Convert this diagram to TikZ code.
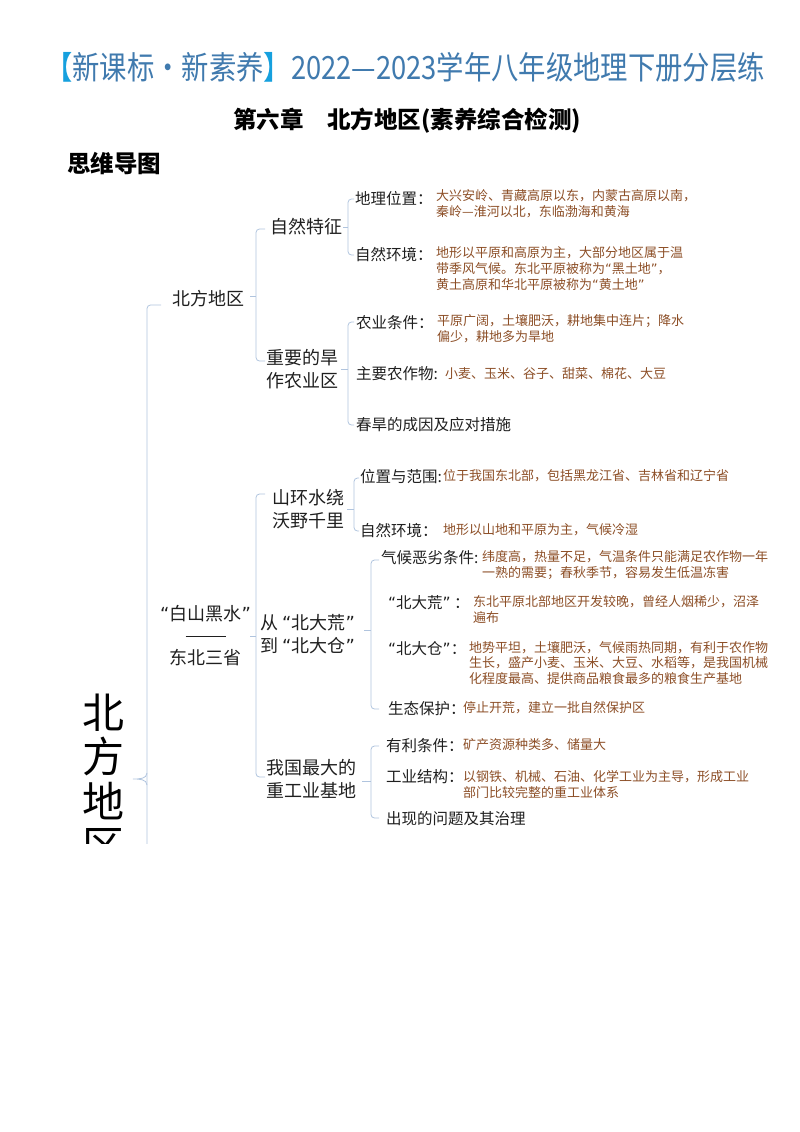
\documentclass[tikz,border=0pt]{standalone}
\usepackage{graphicx}
\usepackage{fontspec}
\setmainfont{Noto Sans CJK SC}
\newfontfamily\qfont{DejaVu Sans}
\newcommand\qo{{\qfont “}}
\newcommand\qc{{\qfont ”}}
\definecolor{brn}{RGB}{140,78,38}
\definecolor{lnc}{RGB}{176,196,222}
\definecolor{ttl}{RGB}{64,122,174}
\definecolor{brk}{RGB}{22,160,222}
\begin{document}
\begin{tikzpicture}[x=1pt,y=-1pt,
  br/.style={draw=lnc, line width=0.8pt, rounded corners=3.5pt},
  tipline/.style={draw=lnc, line width=0.8pt},
  n1/.style={inner sep=0pt, anchor=west, align=left, font={\fontsize{18}{23}\selectfont}, text=black!88},
  n2/.style={inner sep=0pt, anchor=west, align=left, font={\fontsize{15.5}{19}\selectfont}, text=black!88},
  det/.style={inner sep=0pt, anchor=west, align=left, font={\fontsize{13}{16}\selectfont}, text=brn},
]
\useasboundingbox (0,0) rectangle (800,1132);

% ---- titles
\node[inner sep=0pt, text=ttl] (title) at (405,67)
  {\resizebox{720pt}{\height}{\fontsize{32}{34}\selectfont\textcolor{brk}{【}新课标・新素养\textcolor{brk}{】}2022—2023学年八年级地理下册分层练}};
\node[inner sep=0pt, font={\bfseries\fontsize{23.5}{26}\selectfont}] (sub) at (407,121) {第六章　北方地区(素养综合检测)};
\node[inner sep=0pt, anchor=west, font={\bfseries\fontsize{23.5}{26}\selectfont}] (mm) at (67,164) {思维导图};

\begin{scope}
\clip (0,0) rectangle (800,843);

% ---- root
\node[inner sep=0pt, align=center, font={\fontsize{42}{44.5}\selectfont}] (root) at (103,779) {北\\方\\地\\区};

% ---- level 1
\node[n1] (bf) at (172,299) {北方地区};
\node[n1, align=center] (db) at (160,636) {\qo 白山黑水\qc\\[-2pt]\rule[0.3em]{40pt}{0.9pt}\\东北三省};

% ---- level 2 (北方地区)
\node[n1] (zr) at (270,227) {自然特征};
\node[n1] (hz) at (266,369) {重要的旱\\作农业区};

% ---- level 2 (东北三省)
\node[n1] (sh) at (272,509) {山环水绕\\沃野千里};
\node[n1] (cb) at (260,634) {从 \qo 北大荒\qc\\到 \qo 北大仓\qc};
\node[n1] (zg) at (266,779) {我国最大的\\重工业基地};

% ---- level 3 labels
\node[n2] (a1) at (355,199) {地理位置：};
\node[n2] (a2) at (355,255) {自然环境：};
\node[n2] (b1) at (356,323) {农业条件：};
\node[n2] (b2) at (356,374) {主要农作物:};
\node[n2] (b3) at (356,425) {春旱的成因及应对措施};
\node[n2] (c1) at (360,477) {位置与范围:};
\node[n2] (c2) at (360,531) {自然环境：};
\node[n2] (d1) at (381,558) {气候恶劣条件:};
\node[n2] (d2) at (388,603) {\qo 北大荒\qc\ ：};
\node[n2] (d3) at (388,649) {\qo 北大仓\qc ：};
\node[n2] (d4) at (388,709) {生态保护：};
\node[n2] (e1) at (386,746) {有利条件：};
\node[n2] (e2) at (386,777) {工业结构：};
\node[n2] (e3) at (386,819) {出现的问题及其治理};

% ---- details
\node[det] (ta1) at (436,204) {大兴安岭、青藏高原以东，内蒙古高原以南，\\秦岭—淮河以北，东临渤海和黄海};
\node[det] (ta2) at (436,269) {地形以平原和高原为主，大部分地区属于温\\带季风气候。东北平原被称为\qo 黑土地\qc ，\\黄土高原和华北平原被称为\qo 黄土地\qc};
\node[det] (tb1) at (437,329) {平原广阔，土壤肥沃，耕地集中连片；降水\\偏少，耕地多为旱地};
\node[det] (tb2) at (445,374) {小麦、玉米、谷子、甜菜、棉花、大豆};
\node[det] (tc1) at (443,476) {位于我国东北部，包括黑龙江省、吉林省和辽宁省};
\node[det] (tc2) at (443,530) {地形以山地和平原为主，气候冷湿};
\node[det] (td1) at (482,565) {纬度高，热量不足，气温条件只能满足农作物一年\\一熟的需要；春秋季节，容易发生低温冻害};
\node[det] (td2) at (473,610) {东北平原北部地区开发较晚，曾经人烟稀少，沼泽\\遍布};
\node[det, font={\fontsize{13}{15.3}\selectfont}] (td3) at (469,663) {地势平坦，土壤肥沃，气候雨热同期，有利于农作物\\生长，盛产小麦、玉米、大豆、水稻等，是我国机械\\化程度最高、提供商品粮食最多的粮食生产基地};
\node[det] (td4) at (463,708) {停止开荒，建立一批自然保护区};
\node[det] (te1) at (463,745) {矿产资源种类多、储量大};
\node[det] (te2) at (463,784) {以钢铁、机械、石油、化学工业为主导，形成工业\\部门比较完整的重工业体系};

% ---- brackets
% root
\draw[br] (161,305) -- (147,305) -- (147,870);
\draw[tipline] (147,773) to[out=-90,in=0] (133,779) to[out=0,in=90] (147,785);
% 北方地区
\draw[br] (265,229) -- (256,229) -- (256,361) -- (265,361);
\draw[tipline] (250,296) -- (256,296);
% 自然特征
\draw[br] (354,199) -- (348,199) -- (348,255) -- (354,255);
\draw[tipline] (343,227) -- (348,227);
% 重要的旱作农业区
\draw[br] (354,322) -- (348,322) -- (348,425) -- (354,425);
\draw[tipline] (341,369) -- (348,369);
% 东北三省
\draw[br] (265,494) -- (256,494) -- (256,777) -- (265,777);
\draw[tipline] (250,636) -- (256,636);
% 山环水绕
\draw[br] (359,478) -- (354,478) -- (354,531) -- (359,531);
\draw[tipline] (347,509) -- (354,509);
% 从北大荒到北大仓
\draw[br] (379,560) -- (371,560) -- (371,709) -- (379,709);
\draw[tipline] (364,630) -- (371,630);
% 重工业基地
\draw[br] (379,746) -- (371,746) -- (371,818) -- (379,818);
\draw[tipline] (362,781) -- (371,781);
\end{scope}
\end{tikzpicture}
\end{document}
